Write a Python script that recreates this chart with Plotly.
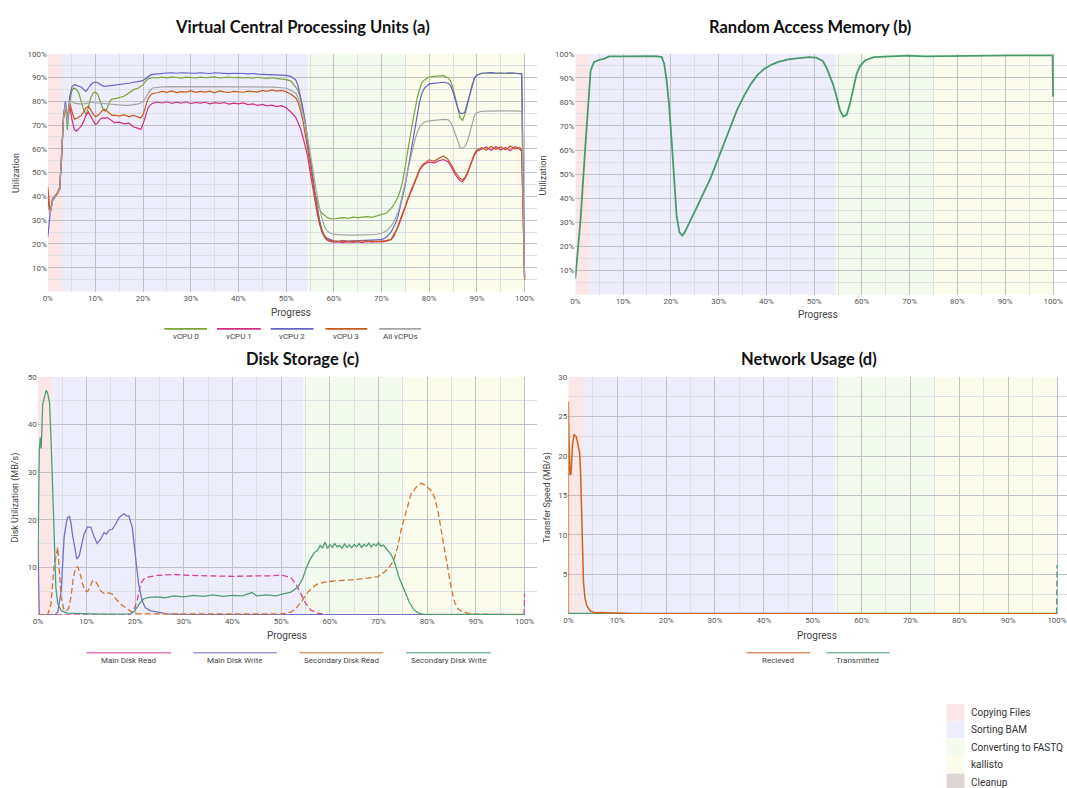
import plotly.graph_objects as go

W, H = 1067, 788

# ---------------- DATA ----------------
progress_ticks = [0, 10, 20, 30, 40, 50, 60, 70, 80, 90, 100]
progress_minor = [5, 15, 25, 35, 45, 55, 65, 75, 85, 95]

phase_names = ["Copying Files", "Sorting BAM", "Converting to FASTQ", "kallisto", "Cleanup"]
phase_start = [0, 3, 54.5, 75, 100]
phase_end = [3, 54.5, 75, 100, 100]

# (a) vCPU utilisation (%), x = progress (%)
cpu_x = [0, 0.5, 1, 1.5, 2, 2.5, 2.9, 3.3, 3.7, 4.1,
         4.6, 5.1, 5.6, 6, 6.5, 7, 7.5, 8, 8.5, 9,
         9.5, 10, 10.5, 11, 11.5, 12, 12.5, 13, 13.5, 14,
         15, 16, 17, 18, 19, 19.5, 20, 20.5, 21, 21.5,
         22, 23, 24, 25, 26, 27, 28, 29, 30, 31,
         32, 33, 34, 35, 36, 37, 38, 39, 40, 41,
         42, 43, 44, 45, 46, 47, 48, 49, 50, 51,
         52, 52.5, 53, 53.5, 54, 54.5, 55, 55.5, 56, 56.5,
         57, 57.5, 58, 58.5, 59, 60, 61, 62, 63, 64,
         65, 66, 67, 68, 69, 70, 71, 72, 72.5, 73,
         73.5, 74, 74.5, 75, 75.5, 76, 76.5, 77, 77.5, 78,
         78.5, 79, 80, 81, 82, 83, 84, 84.5, 85, 85.5,
         86, 86.5, 87, 87.5, 88, 88.5, 89, 89.5, 90, 91,
         92, 93, 94, 95, 96, 97, 98, 99, 99.4, 100]
vcpu0 = [38, 33, 39, 40, 41, 43, 56, 74, 79, 68,
         80, 84.9, 85.6, 85, 83.5, 80, 76.5, 74.4, 77.3, 81.5,
         83.5, 83.9, 82.8, 80, 77.2, 75.8, 77.3, 80, 81, 81,
         81.5, 82.1, 83.5, 84.9, 85.6, 86.3, 87, 88.4, 89.4, 89.7,
         90, 89.8, 90.2, 89.9, 90.3, 90.0, 89.7, 90.2, 90.1, 89.8,
         90.2, 89.9, 90.1, 90.3, 89.8, 90.0, 90.2, 89.9, 90.1, 89.8,
         90.0, 89.7, 90.1, 89.8, 89.6, 89.9, 89.5, 89.3, 89.1, 88.5,
         86, 84.5, 81.2, 77, 72, 64, 56, 48.4, 42, 38,
         34.5, 33, 32, 31.3, 30.8, 30.5, 30.9, 31.1, 30.8, 31.3,
         31.1, 31.4, 31.5, 31.2, 31.8, 32.2, 33, 35, 36.2, 38,
         40, 43, 47, 53, 59.5, 65, 71, 76.3, 81.5, 85,
         88, 89, 90.2, 90.5, 90.6, 90.8, 89.8, 88.5, 85.5, 81.5,
         77.5, 73, 72, 74.5, 78.5, 83, 87, 89.8, 91, 91.8,
         91.9, 92.1, 91.8, 92, 91.7, 91.9, 91.8, 91.6, 91.5, 6]
vcpu1 = [40, 33, 38.5, 40, 41, 43.5, 56, 73, 79, 72,
         78, 72, 68, 67.4, 68.5, 69.5, 71.5, 74, 75.5, 73.5,
         71.5, 70.2, 71, 72.5, 73, 72.8, 73.2, 72.5, 71.8, 71,
         71.2, 70.5, 70.8, 69.2, 68.6, 68.2, 70.5, 74, 77, 78.5,
         79.2, 79.7, 79.3, 79.8, 79.1, 79.6, 79.2, 79.8, 79, 79.5,
         79.2, 79.6, 78.9, 79.4, 79.1, 79.5, 78.8, 79.2, 78.9, 79.3,
         78.6, 78.9, 78.3, 78.7, 78.1, 78.4, 77.8, 78.2, 77.3, 75.5,
         73.3, 71, 68.6, 65, 61.5, 57, 50.5, 44.5, 38.5, 33,
         28.5, 25, 23, 21.8, 21.2, 20.8, 21, 20.6, 21.1, 20.7,
         21, 20.6, 21.2, 20.8, 21.1, 20.9, 21.2, 21.8, 23, 25,
         27.5, 30, 32.5, 35.5, 38.5, 41, 43.5, 46.5, 49, 51,
         52.5, 53.5, 54.5, 54, 55, 55.5, 54.5, 53, 51, 49,
         47.5, 46.5, 46.3, 47.5, 49.5, 52, 55, 57.5, 59, 60,
         60.8, 59.3, 61, 59.5, 60.6, 59.2, 61, 59.8, 59, 5.5]
vcpu2 = [23, 33, 38, 39.5, 41, 43, 56, 74, 80, 72,
         82, 86.3, 87, 86.8, 86.5, 86, 85, 84.2, 85.5, 87,
         87.8, 88.1, 87.8, 87, 86.5, 86.3, 86.4, 86.6, 86.7, 86.7,
         87, 87.3, 87.6, 88, 88.2, 88.5, 88.8, 89.6, 90.5, 91,
         91.3, 91.6, 91.8, 91.9, 92, 91.8, 92, 91.9, 92.1, 91.8,
         92, 91.9, 91.7, 92, 91.8, 91.9, 91.6, 91.8, 91.9, 91.7,
         91.5, 91.7, 91.4, 91.3, 91.5, 91.2, 91.3, 91, 90.9, 90.5,
         89, 86.5, 82, 77, 70.5, 64, 56.8, 49, 41.5, 35,
         30, 26, 23.5, 22.5, 22, 21.3, 21.1, 21.4, 21.2, 21.3,
         21.2, 21.4, 21.3, 21.5, 21.6, 21.8, 22.8, 25, 27, 29,
         32, 36, 40.5, 45, 51, 57, 63, 69, 75, 80,
         83.5, 85.5, 87.3, 87.6, 87.8, 88, 87.6, 86.5, 84, 80.5,
         77, 75, 74.8, 75.5, 79, 83, 87, 89.8, 91, 91.8,
         91.9, 92.1, 91.8, 92, 91.9, 92, 91.8, 91.7, 91.5, 6]
vcpu3 = [44, 33, 39, 40.5, 41.5, 44, 56, 73, 78, 73,
         79.3, 75.5, 72.5, 72.8, 73.5, 74, 75.5, 77.2, 77.9, 76.5,
         74.5, 73.5, 74, 75, 76.2, 76.6, 75.8, 74.6, 74, 74.2,
         73.8, 74.4, 73.6, 74.1, 73.2, 73, 74.5, 78, 81, 82.5,
         83.3, 83.6, 84.2, 83.8, 84.4, 83.7, 84.1, 83.9, 84.5, 83.8,
         84.2, 83.9, 84.3, 83.6, 84.4, 84, 83.7, 84.2, 84, 83.8,
         84.3, 84.1, 83.9, 84.6, 84.2, 84.8, 84.3, 84.6, 84, 83,
         81.5, 79.5, 76.3, 72, 66.5, 60, 53.5, 47, 40, 34,
         29, 25.5, 23.5, 22.3, 21.6, 21.2, 21, 21.4, 20.8, 21.3,
         21, 21.5, 20.9, 21.3, 21, 21.2, 21.4, 22, 23.5, 25.5,
         28, 30.5, 33, 36, 39, 41.5, 44, 47, 49.5, 51.5,
         53, 54, 55.4, 54.8, 56, 57, 55.5, 54, 52, 50,
         48.5, 47.5, 47, 48, 50, 52.5, 55.4, 58, 59.5, 60.5,
         59.5, 61, 59.8, 60.8, 59.6, 61.2, 60, 60.5, 59.5, 5]
vcpu_all = [36, 33, 38.5, 40, 41, 43.5, 56, 73, 79, 71,
            80, 79.8, 79.2, 79, 78.8, 78.8, 78.9, 79.2, 79.4, 79.5,
            79.5, 79.4, 79.3, 79.1, 78.9, 78.8, 78.7, 78.6, 78.6, 78.5,
            78.4, 78.3, 78.3, 78.5, 78.9, 79.3, 80, 81.5, 83.5, 84.8,
            85.6, 86, 86.1, 86.2, 86.2, 86.2, 86.2, 86.3, 86.2, 86.2,
            86.2, 86.2, 86.2, 86.2, 86.1, 86.1, 86.1, 86.1, 86.1, 86,
            86, 86, 86, 86, 86, 86, 85.9, 85.8, 85.5, 84.6,
            83.5, 81.5, 78.5, 75, 70.5, 65, 59, 52.6, 46, 40,
            35, 31, 27.5, 25.7, 24.8, 24, 23.8, 23.7, 23.7, 23.7,
            23.7, 23.7, 23.8, 23.9, 24.1, 24.5, 25.5, 27.5, 29, 31,
            33.5, 37.5, 41.5, 46, 51, 55.4, 59.5, 63.7, 67, 69.2,
            70.5, 71.3, 71.8, 72, 72.2, 72.4, 72.2, 71.2, 69, 66,
            62.5, 60.5, 60.2, 61, 63, 67, 71, 74, 75.2, 75.8,
            75.9, 76, 76, 76, 76, 76, 76, 75.9, 75.5, 5.5]
cpu_names = ["vCPU 0", "vCPU 1", "vCPU 2", "vCPU 3", "All vCPUs"]

# (b) RAM utilisation (%)
ram_x = [0, 1.1, 2.1, 2.9, 3.2, 3.9, 5, 6.1, 7.1, 10,
         12.5, 15, 16.8, 18.1, 18.6, 19.1, 19.6, 20.2, 20.7, 21.2,
         21.8, 22.4, 22.9, 24, 25.4, 26.8, 28.2, 29.6, 31.1, 32.5,
         33.9, 35.4, 36.8, 38.2, 39.6, 41.1, 42.5, 44.6, 46.8, 48.9,
         50.4, 51.8, 52.5, 53.2, 53.9, 54.6, 55.4, 56.1, 56.8, 57.5,
         58.2, 58.9, 59.6, 60.7, 62.5, 66.1, 69.6, 73.2, 76.8, 80.4,
         85, 91.1, 95, 99.9, 100]
ram_y = [6.6, 31.3, 61.5, 86.3, 93, 96.5, 97.5, 98, 98.9, 98.9,
         98.9, 99, 99, 98.6, 95.9, 89, 79.4, 62.9, 46.4, 32.7,
         25.8, 24.5, 25.8, 30.6, 36.1, 42, 47.8, 54.9, 62.2, 69.8,
         76.9, 82.8, 87.6, 91.3, 93.8, 95.5, 96.6, 97.7, 98.2, 98.6,
         98.4, 97, 94.5, 91.1, 87.6, 82.8, 76.6, 73.9, 74.6, 79.4,
         86.3, 91.8, 94.9, 97.3, 98.6, 99, 99.2, 98.9, 99, 99.3,
         99.3, 99.3, 99.3, 99.3, 82.1]

# (c) Disk storage (MB/s)
mdr_x = [0, 18, 19, 19.7, 20.4, 21.1, 21.8, 22.8, 24.5, 27.9,
         31.3, 35, 40, 45, 48, 50, 52, 53, 54.1, 55.1,
         56.1, 57.5, 60, 99.9, 100]
mdr_y = [0, 0, 0.2, 0.9, 3, 6.5, 7.6, 8, 8.3, 8.5,
         8.3, 8.2, 8.1, 8.2, 8.2, 8.4, 7.8, 6.5, 4.4, 2.3,
         1, 0.35, 0, 0, 4.5]
mdw_x = [0, 0.3, 3.5, 4.1, 4.8, 5.1, 5.4, 5.8, 6.1, 6.5,
         6.8, 7.1, 7.5, 8, 8.5, 9, 9.5, 10.2, 10.9, 11.6,
         12.2, 12.9, 13.6, 14.1, 14.6, 15.3, 16, 16.7, 17.2, 17.7,
         18.2, 18.7, 19.4, 20.1, 20.7, 21.4, 22.1, 23.1, 24.5, 26.5,
         30, 100]
mdw_y = [16, 0, 0, 0.6, 5.1, 12.1, 16.3, 19.1, 20.5, 20.7,
         19.4, 17, 14.2, 11.7, 12.4, 14.9, 17, 18.5, 18.4, 16.3,
         15, 15.9, 17.3, 17.0, 17.8, 18, 19.1, 20.5, 21.0, 21.3,
         20.8, 20.8, 18.4, 12.1, 6.5, 3, 1.5, 0.9, 0.6, 0.2,
         0.05, 0.05]
sdr_x = [0, 2, 2.7, 3.1, 3.4, 3.7, 4.1, 4.4, 4.8, 5.3,
         5.8, 6.3, 6.8, 7.3, 7.8, 8.2, 8.6, 9.2, 9.7, 10.2,
         10.7, 11.2, 11.7, 12.2, 12.9, 13.6, 14.6, 15.3, 16, 17,
         18, 19, 20.4, 48, 50, 52, 53, 54.1, 54.8, 55.5,
         56.5, 57.5, 58.9, 61.6, 65, 68.4, 69.8, 71.2, 72.2, 73.2,
         73.9, 74.6, 75.3, 76, 76.7, 77.7, 78.8, 79.8, 80.8, 81.5,
         82.2, 82.8, 83.5, 84.2, 84.9, 85.6, 86.3, 87.3, 89, 100]
sdr_y = [0, 0, 2.3, 6.5, 11, 12.1, 14.2, 9.3, 3.7, 1.3,
         0.8, 1.3, 3.7, 7.9, 10, 10.1, 9, 6.5, 5.1, 4.9,
         5.8, 7.1, 7.2, 6.5, 5.1, 4.5, 4.6, 4.4, 3.4, 2.3,
         1.5, 0.8, 0.2, 0.1, 0.2, 0.6, 1.3, 2.7, 3.7, 4.8,
         5.8, 6.5, 6.9, 7.2, 7.4, 7.8, 8, 9, 10, 11.7,
         14.2, 17.7, 20.5, 22.9, 25.4, 26.8, 27.7, 27.1, 26.1, 24.7,
         21.9, 18.4, 14.2, 10, 5.8, 2.7, 1.3, 0.6, 0.2, 0]
sdw_x = [0, 0.3, 0.5, 0.7, 1, 1.4, 1.7, 2, 2.4, 2.7,
         3.1, 3.4, 3.7, 4.1, 4.8, 6.1, 8, 11, 15, 19,
         19.7, 20.4, 21.1, 21.8, 22.8, 24.5, 26, 28, 30, 32,
         34, 36, 38, 40, 42, 44, 45, 47, 49, 50,
         52, 53.4, 54.4, 55.1, 55.8, 56.8, 57.5, 58, 58.5, 59,
         59.5, 60, 60.5, 61, 61.5, 62, 62.5, 63, 63.5, 64,
         64.5, 65, 65.5, 66, 66.5, 67, 67.5, 68, 68.5, 69,
         69.5, 70, 70.5, 71, 71.5, 72, 72.5, 73, 73.5, 74.2,
         75.3, 76.3, 77.3, 78.3, 79.3, 85, 90, 95, 100]
sdw_y = [10, 34.5, 37.3, 35, 44.3, 46, 47.2, 46.7, 44.6, 37.3,
         23.3, 12.1, 5.8, 2.3, 0.9, 0.35, 0.25, 0.2, 0.15, 0.2,
         0.6, 1.6, 2.7, 3.4, 3.7, 3.8, 3.6, 4.0, 3.8, 4.1,
         3.9, 4.2, 3.9, 4.1, 4.0, 4.7, 4.0, 4.2, 4.0, 4.3,
         4.8, 5.8, 7.6, 9.7, 11.4, 13.1, 13.6, 14.6, 14.1, 15.3,
         14.0, 14.8, 14.2, 15.0, 14.3, 14.6, 14.0, 14.9, 14.2, 14.7,
         14.1, 14.8, 14.3, 15.0, 14.2, 14.8, 14.4, 15.1, 14.3, 14.9,
         14.5, 15.2, 14.4, 14.7, 14.0, 13.5, 12.8, 11.8, 10.4, 7.9,
         5.1, 2.7, 1, 0.35, 0.1, 0.1, 0.1, 0.1, 0.1]
disk_names = ["Main Disk Read", "Main Disk Write", "Secondary Disk Read", "Secondary Disk Write"]

# (d) Network (MB/s)
rx_x = [0, 0, 0.14, 0.35, 0.56, 0.84, 1.2, 1.6, 2, 2.3,
        2.5, 2.7, 2.9, 3.1, 3.4, 3.8, 4.5, 5.6, 6.6, 8.7,
        13.6, 100]
rx_y = [0, 26.9, 21.9, 17.6, 17.8, 21.4, 22.7, 22.5, 21.4, 20.5,
        18, 12, 7, 4, 2, 1, 0.34, 0.13, 0.17, 0.1,
        0.03, 0.03]
tx_x = [0, 99.9, 100]
tx_y = [0.05, 0.05, 6.2]
net_names = ["Recieved", "Transmitted"]

for a, b in [(cpu_x, vcpu0), (cpu_x, vcpu1), (cpu_x, vcpu2), (cpu_x, vcpu3), (cpu_x, vcpu_all),
             (ram_x, ram_y), (mdr_x, mdr_y), (mdw_x, mdw_y), (sdr_x, sdr_y), (sdw_x, sdw_y),
             (rx_x, rx_y), (tx_x, tx_y)]:
    if len(a) != len(b):
        raise ValueError(f"length mismatch {len(a)} vs {len(b)}: {b[:3]}")

# ---------------- STYLE ----------------
phase_colors = ["#fbe7e7", "#ededfb", "#f2fbed", "#fcfced", "#ddd6d4"]
cpu_colors = ["#7aa53a", "#d12f7e", "#6464c8", "#c95a1e", "#a5a5a5"]
ram_color = "#4a9a6c"
disk_colors = ["#d6449a", "#7670c6", "#d0772f", "#4f9d73"]
disk_dash = ["6px,3px", "solid", "6px,3px", "solid"]
net_colors = ["#c8651f", "#4f9d73"]

GRID = "#bfc1c7"
MINOR = "#dedfe5"
TICKFONT = dict(family="Roboto", size=8, color="#555555")
LABFONT = dict(family="Roboto", size=10, color="#444444")
TITLEFONT = dict(family="Lato", size=16.5, color="#111111", weight=700)


def px(p):
    return p / W


def py(p):
    return 1 - p / H


fig = go.Figure()

# panels: (suffix, x0px, x100px, xright, ytop, ybottom, ymax, ymajor, yminor, ysuffix)
panels = {
    "a": ("", 43, 522, 535, 50, 289, 100, 10, 5, "%"),
    "b": ("2", 573, 1053, 1067, 50, 292, 100, 10, 5, "%"),
    "c": ("3", 33, 522, 535, 375, 614, 50, 10, 5, ""),
    "d": ("4", 566, 1057, 1067, 375, 613, 30, 5, 2.5, ""),
}

layout_axes = {}
shapes = []
for key, (s, x0p, x100p, xr, yt, yb, ymax, ymaj, ymin, ysuf) in panels.items():
    scale = (x100p - x0p) / 100.0
    xmax = (xr - x0p) / scale
    yvals = []
    v = 0
    while v <= ymax + 1e-9:
        yvals.append(round(v, 3))
        v += ymaj
    ytext = ["" if t == 0 else (f"{t:g}{ysuf}") for t in yvals]
    yminor = []
    v = ymin
    while v < ymax:
        yminor.append(round(v, 3))
        v += ymaj
    layout_axes["xaxis" + s] = dict(
        domain=[px(x0p), px(xr)], range=[0, xmax], anchor="y" + s,
        tickmode="array", tickvals=progress_ticks,
        ticktext=[f"{t}%" for t in progress_ticks],
        showgrid=True, gridcolor=GRID, gridwidth=1, zeroline=False,
        showline=False, ticks="", tickfont=TICKFONT,
        minor=dict(tickmode="array", tickvals=progress_minor, showgrid=True,
                   gridcolor=MINOR, gridwidth=1, ticks=""),
        fixedrange=True,
    )
    layout_axes["yaxis" + s] = dict(
        domain=[py(yb), py(yt)], range=[0, ymax], anchor="x" + s,
        tickmode="array", tickvals=yvals, ticktext=ytext,
        showgrid=True, gridcolor=GRID, gridwidth=1, zeroline=False,
        showline=False, ticks="", tickfont=TICKFONT,
        minor=dict(tickmode="array", tickvals=yminor, showgrid=True,
                   gridcolor=MINOR, gridwidth=1, ticks=""),
        fixedrange=True,
    )
    for i in range(4):
        shapes.append(dict(type="rect", xref="x" + s, yref=f"y{s} domain",
                           x0=phase_start[i], x1=phase_end[i], y0=0, y1=1,
                           fillcolor=phase_colors[i], line=dict(width=0),
                           layer="below"))

# ---- traces (a)
for name, ys, col in zip(cpu_names, [vcpu0, vcpu1, vcpu2, vcpu3, vcpu_all], cpu_colors):
    fig.add_trace(go.Scatter(x=cpu_x, y=ys, mode="lines", name=name,
                             line=dict(color=col, width=1.2), xaxis="x", yaxis="y",
                             showlegend=False))
# ---- (b)
fig.add_trace(go.Scatter(x=ram_x, y=ram_y, mode="lines", name="RAM",
                         line=dict(color=ram_color, width=1.8), xaxis="x2", yaxis="y2",
                         showlegend=False))
# ---- (c)
for name, xs, ys, col, dsh in zip(disk_names, [mdr_x, mdw_x, sdr_x, sdw_x],
                                  [mdr_y, mdw_y, sdr_y, sdw_y], disk_colors, disk_dash):
    fig.add_trace(go.Scatter(x=xs, y=ys, mode="lines", name=name,
                             line=dict(color=col, width=1.3, dash=dsh),
                             xaxis="x3", yaxis="y3", showlegend=False))
# ---- (d)
fig.add_trace(go.Scatter(x=tx_x[:-1], y=tx_y[:-1], mode="lines", name=net_names[1],
                         line=dict(color=net_colors[1], width=1.5), xaxis="x4", yaxis="y4",
                         showlegend=False))
fig.add_trace(go.Scatter(x=tx_x[-2:], y=tx_y[-2:], mode="lines", name=net_names[1],
                         line=dict(color=net_colors[1], width=1.3, dash="6px,3px"),
                         xaxis="x4", yaxis="y4", showlegend=False))
fig.add_trace(go.Scatter(x=rx_x, y=rx_y, mode="lines", name=net_names[0],
                         line=dict(color=net_colors[0], width=1.5), xaxis="x4", yaxis="y4",
                         showlegend=False))

annotations = []


def text(t, x, y, font, angle=0, xanchor="center"):
    annotations.append(dict(text=t, x=px(x), y=py(y), xref="paper", yref="paper",
                            showarrow=False, font=font, textangle=angle,
                            xanchor=xanchor, yanchor="middle"))


# titles
text("Virtual Central Processing Units (a)", 299, 23, TITLEFONT)
text("Random Access Memory (b)", 809, 23, TITLEFONT)
text("Disk Storage (c)", 299, 357, TITLEFONT)
text("Network Usage (d)", 808, 357, TITLEFONT)
# axis titles
text("Progress", 287, 310, LABFONT)
text("Progress", 817, 312, LABFONT)
text("Progress", 283, 635, LABFONT)
text("Progress", 816, 635, LABFONT)
AXT = dict(family="Roboto", size=9, color="#444444")
text("Utilization", 11, 170, AXT, angle=-90)
text("Utilization", 541, 172, AXT, angle=-90)
text("Disk Utilization (MB/s)", 11, 496, AXT, angle=-90)
text("Transfer Speed (MB/s)", 545, 496, AXT, angle=-90)

# custom legends (line above label)
LEGFONT = dict(family="Roboto", size=8, color="#444444")


def legend_item(name, color, x0, x1, yline, ytext, opacity=1.0):
    shapes.append(dict(type="line", xref="paper", yref="paper", x0=px(x0), x1=px(x1),
                       y0=py(yline), y1=py(yline), line=dict(color=color, width=1.6),
                       opacity=opacity))
    text(name, (x0 + x1) / 2, ytext, LEGFONT)


cpu_leg = [(160, 203), (213, 257), (267, 310), (322, 364), (376, 418)]
for name, col, (a0, a1) in zip(cpu_names, cpu_colors, cpu_leg):
    legend_item(name, col, a0, a1, 326.5, 334)
disk_leg = [(82, 167), (189, 273), (296, 380), (403, 488)]
for name, col, (a0, a1) in zip(disk_names, disk_colors, disk_leg):
    legend_item(name, col, a0, a1, 652, 660, 0.7)
net_leg = [(745, 809), (825, 889)]
for name, col, (a0, a1) in zip(net_names, net_colors, net_leg):
    legend_item(name, col, a0, a1, 652, 660, 0.7)

# phase legend (bottom right)
PHFONT = dict(family="Roboto", size=10, color="#333333")
row_top = [703.5, 721, 738.5, 756, 773.5]
for name, col, top in zip(phase_names, phase_colors, row_top):
    shapes.append(dict(type="rect", xref="paper", yref="paper", x0=px(946), x1=px(964),
                       y0=py(top + 17), y1=py(top), fillcolor=col, line=dict(width=0)))
    text(name, 969, top + 8.5, PHFONT, xanchor="left")

fig.update_layout(
    width=W, height=H, margin=dict(l=0, r=0, t=0, b=0),
    paper_bgcolor="white", plot_bgcolor="white",
    shapes=shapes, annotations=annotations, showlegend=False,
    **layout_axes,
)

fig.write_html("out.html", config={"displayModeBar": False},
               post_script="document.body.style.margin='0px';document.body.style.overflow='hidden';")
